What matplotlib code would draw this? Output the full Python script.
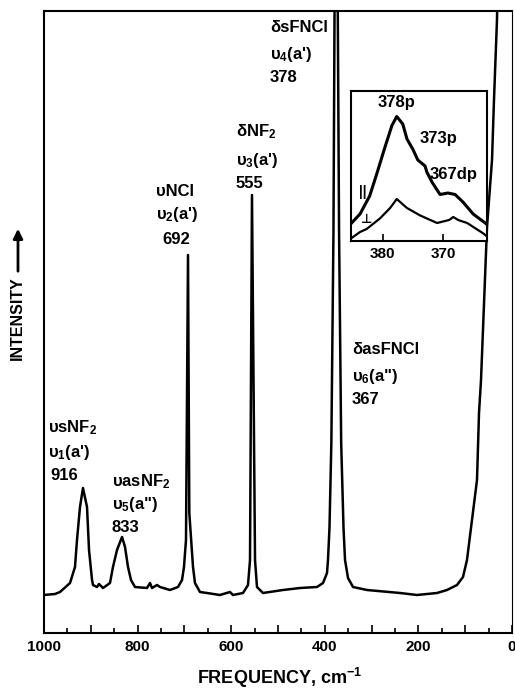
import numpy as np
import matplotlib.pyplot as plt

plt.rcParams['font.family'] = ['Liberation Sans', 'DejaVu Sans']
plt.rcParams['font.weight'] = 'bold'
plt.rcParams['mathtext.fontset'] = 'custom'
plt.rcParams['mathtext.rm'] = 'Liberation Sans:bold'
plt.rcParams['mathtext.it'] = 'Liberation Sans:bold'
plt.rcParams['mathtext.bf'] = 'Liberation Sans:bold'

# Raman spectrum (cm-1, arbitrary intensity)
freq = [1000, 976.5, 965.8, 944.4, 933.8, 929.5, 923.1, 916.7, 908.1, 903.8,
        897.4, 895.3, 886.8, 882.5, 873.9, 859.0, 852.6, 844.0, 833.3, 826.9,
        820.5, 814.1, 805.6, 779.9, 773.5, 769.2, 758.5, 752.1, 730.8, 713.7,
        705.1, 700.9, 696.6, 692.3, 689.5, 681.6, 677.4, 666.7, 651.7, 624.1,
        602.6, 596.2, 574.8, 564.1, 559.8, 555.6, 549.1, 544.9, 532.1, 489.3,
        453.0, 416.7, 403.8, 395.3, 393.2, 390, 386, 381.5, 379, 372.5,
        369.5, 365, 360, 356.8, 350.4, 339.7, 309.8, 239.3, 203.0, 160.3,
        138.9, 117.5, 104.7, 96.2, 74.8, 70.5, 66.2, 53.4, 42.7, 38.5,
        32.1, 29]
inten = [38, 39, 41, 50, 66, 93, 126, 145, 126, 83,
         53, 48, 46, 49, 45, 50, 66, 83, 96, 86,
         66, 53, 46, 45, 50, 45, 48, 46, 43, 46,
         53, 66, 93, 378, 120, 66, 50, 41, 40, 38,
         41, 38, 40, 48, 73, 438, 73, 46, 40, 43,
         45, 46, 50, 60, 73, 105, 190, 400, 640, 640,
         400, 190, 105, 73, 55, 46, 43, 40, 38, 40,
         43, 48, 56, 73, 153, 220, 253, 406, 473, 533,
         613, 690]

# inset: 378 cm-1 region, parallel and perpendicular polarisation
ins_freq_par = [385.2, 383.8, 382.2, 381.0, 379.7, 378.5, 377.7, 376.7, 376.0, 375.0,
                374.2, 373.0, 372.7, 371.8, 370.5, 369.2, 368.0, 366.7, 365.0, 363.0, 362.7]
ins_par = [12, 18, 30, 45, 62, 77, 83, 78, 68, 61,
           54, 50, 46, 39, 31, 32, 31, 26, 18, 12, 11]
ins_freq_perp = [385.2, 383.8, 382.7, 380.5, 378.8, 377.7, 376.0, 373.8, 371.0, 369.0,
                 368.3, 367.5, 366.0, 363.3, 362.7]
ins_perp = [2, 6, 8, 15, 22, 28, 22, 17, 12, 14,
            16, 14, 12, 5, 3]

xtick_vals = [1000, 800, 600, 400, 200, 0]
xtick_text = ['1000', '800', '600', '400', '200', '0']
ins_ticks = [380, 370]

W, H = 515, 689
fig = plt.figure(figsize=(W / 100, H / 100), dpi=100)


def box(x0, y0, w, h):
    return [x0 / W, 1 - (y0 + h) / H, w / W, h / H]


def label(x, y, s, size=12):
    fig.text(x / W, 1 - y / H, s, fontsize=size, fontweight='bold',
             ha='left', va='center')


ax = fig.add_axes(box(44, 11, 468, 622))
ax.plot(freq, inten, color='k', lw=1.8)
ax.set_xlim(1000, 0)
ax.set_ylim(0, 622)
ax.set_yticks([])
ax.set_xticks(np.arange(0, 1001, 100))
ax.set_xticks(np.arange(50, 1000, 100), minor=True)
ax.set_xticklabels([xtick_text[xtick_vals.index(v)] if v in xtick_vals else ''
                    for v in np.arange(0, 1001, 100)])
ax.tick_params(axis='x', which='major', direction='in', length=6, width=1.2,
               labelsize=11, pad=5)
ax.tick_params(axis='x', which='minor', direction='in', length=3.5, width=1.2)
for sp in ax.spines.values():
    sp.set_linewidth(1.5)
ax.spines['right'].set_linewidth(0.8)

# peak labels
label(48, 428, 'υsNF$_2$')
label(48, 453, "υ$_1$(a')")
label(50, 475, '916')
label(112, 482, 'υasNF$_2$')
label(112, 505, 'υ$_5$(a")')
label(112, 527, '833')
label(156, 192, 'υNCl')
label(156, 215, "υ$_2$(a')")
label(162, 240, '692')
label(236, 132, 'δNF$_2$')
label(236, 160, "υ$_3$(a')")
label(236, 183, '555')
label(270, 27, 'δsFNCl')
label(270, 55, "υ$_4$(a')")
label(270, 78, '378')
label(352, 350, 'δasFNCl')
label(352, 377, 'υ$_6$(a")')
label(352, 400, '367')

# axis titles
fig.text(280 / W, 1 - 678 / H, 'FREQUENCY, cm$^{-1}$', ha='center', va='center',
         fontsize=13, fontweight='bold')
fig.text(17 / W, 1 - 318 / H, 'INTENSITY', rotation=90, ha='center', va='center',
         fontsize=11.5, fontweight='bold')
ax.annotate('', xy=(18 / W, 1 - 226 / H), xytext=(18 / W, 1 - 274 / H),
            xycoords='figure fraction',
            arrowprops=dict(arrowstyle='-|>', color='k', lw=2, mutation_scale=14))

# inset
axi = fig.add_axes(box(351, 91, 136, 150))
axi.plot(ins_freq_par, ins_par, color='k', lw=2.2)
axi.plot(ins_freq_perp, ins_perp, color='k', lw=1.6)
axi.set_xlim(385.3, 362.7)
axi.set_ylim(0, 100)
axi.set_yticks([])
axi.set_xticks(ins_ticks)
axi.tick_params(axis='x', direction='in', length=5, width=1.2, labelsize=11, pad=4)
for sp in axi.spines.values():
    sp.set_linewidth(1.5)
label(378, 103, '378p')
label(420, 138, '373p')
label(430, 175, '367dp')
label(359, 192, '||', size=10)
label(361, 220, '⊥', size=9)

fig.savefig('out.png', dpi=100)
